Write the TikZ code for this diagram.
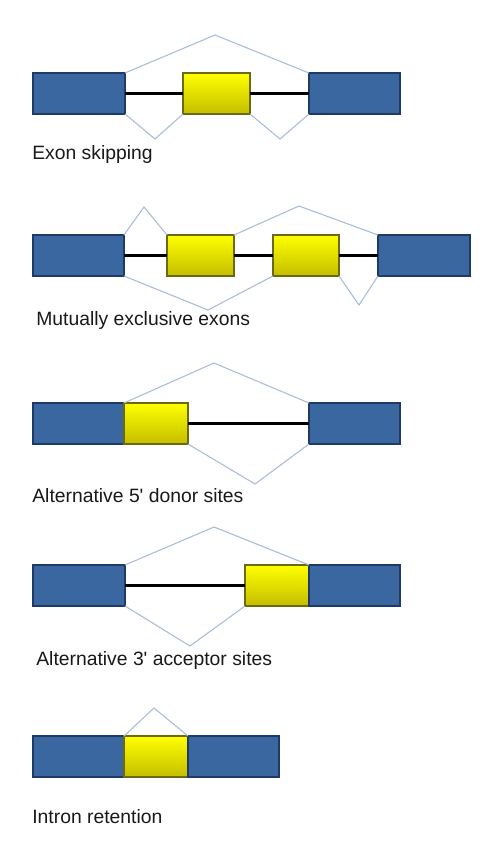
\documentclass[tikz,border=0pt]{standalone}
\usepackage{fontspec}
\setmainfont{Liberation Sans}
\definecolor{ExonBlue}{HTML}{3B67A1}
\definecolor{ExonEdge}{HTML}{1E3A66}
\definecolor{AltYellow}{HTML}{FFFF00}
\definecolor{AltShade}{HTML}{C4BE00}
\definecolor{AltEdge}{HTML}{6B6A10}
\definecolor{SpliceBlue}{HTML}{A8BCD9}
\usetikzlibrary{positioning}
\tikzset{
  exon/.style={draw=ExonEdge, fill=ExonBlue, line width=0.9pt, inner sep=0pt,
    outer sep=0pt, minimum height=0.82cm, anchor=north west},
  altexon/.style={exon, draw=AltEdge, top color=AltYellow, middle color=AltYellow,
    bottom color=AltShade},
  intron/.style={black, line width=1.4pt},
  splice/.style={SpliceBlue, line width=0.6pt},
  caption/.style={anchor=base west, inner sep=0pt, text=black!90,
    font=\fontsize{11}{13}\selectfont}
}

\begin{document}
\begin{tikzpicture}[x=0.02cm, y=-0.02cm]
  \fill[white] (0,0) rectangle (500,850);
  \useasboundingbox (0,0) rectangle (500,850);
  % exon skipping
  \node[exon, minimum width=1.84cm] (es1) at (33,73) {};
  \node[altexon, minimum width=1.34cm] (es2) at (183,73) {};
  \node[exon, minimum width=1.82cm] (es3) at (309,73) {};
  \draw[intron] (es1) -- (es2) (es2) -- (es3);
  \coordinate (esTop) at (215,35);
  \coordinate (esLowA) at (155,139);
  \coordinate (esLowB) at (280,139);
  \draw[splice] (es1.north east) -- (esTop) -- (es3.north west);
  \draw[splice] (es1.south east) -- (esLowA) -- (es2.south west);
  \draw[splice] (es2.south east) -- (esLowB) -- (es3.south west);
  \node[caption] (esText) at (32,159) {Exon skipping};
  % mutually exclusive exons
  \node[exon, minimum width=1.82cm] (mx1) at (33,235) {};
  \node[altexon, minimum width=1.34cm] (mx2) at (167,235) {};
  \node[altexon, minimum width=1.32cm] (mx3) at (273,235) {};
  \node[exon, minimum width=1.84cm] (mx4) at (378,235) {};
  \draw[intron] (mx1) -- (mx2) (mx2) -- (mx3) (mx3) -- (mx4);
  \coordinate (mxTopA) at (144,207);
  \coordinate (mxTopB) at (299,206);
  \coordinate (mxLowA) at (208,310);
  \coordinate (mxLowB) at (359,305);
  \draw[splice] (mx1.north east) -- (mxTopA) -- (mx2.north west);
  \draw[splice] (mx2.north east) -- (mxTopB) -- (mx4.north west);
  \draw[splice] (mx1.south east) -- (mxLowA) -- (mx3.south west);
  \draw[splice] (mx3.south east) -- (mxLowB) -- (mx4.south west);
  \node[caption] (mxText) at (36,325) {Mutually exclusive exons};
  % alternative 5' donor sites
  \node[exon, minimum width=1.82cm] (dn1) at (33,403) {};
  \node[altexon, minimum width=1.28cm, right=0pt of dn1] (dn2) {};
  \node[exon, minimum width=1.82cm] (dn3) at (309,403) {};
  \draw[intron] (dn2) -- (dn3);
  \coordinate (dnTop) at (214,363);
  \coordinate (dnLow) at (255,484);
  \draw[splice] (dn1.north east) -- (dnTop) -- (dn3.north west);
  \draw[splice] (dn2.south east) -- (dnLow) -- (dn3.south west);
  \node[caption] (dnText) at (32,502) {Alternative 5\textquotesingle{} donor sites};
  % alternative 3' acceptor sites
  \node[exon, minimum width=1.84cm] (ac1) at (33,565) {};
  \node[altexon, minimum width=1.28cm] (ac2) at (245,565) {};
  \node[exon, minimum width=1.82cm, right=0pt of ac2] (ac3) {};
  \draw[intron] (ac1) -- (ac2);
  \coordinate (acTop) at (214,527);
  \coordinate (acLow) at (190,646);
  \draw[splice] (ac1.north east) -- (acTop) -- (ac3.north west);
  \draw[splice] (ac1.south east) -- (acLow) -- (ac2.south west);
  \node[caption] (acText) at (36,665) {Alternative 3\textquotesingle{} acceptor sites};
  % intron retention
  \node[exon, minimum width=1.82cm] (ir1) at (33,736) {};
  \node[altexon, minimum width=1.28cm, right=0pt of ir1] (ir2) {};
  \node[exon, minimum width=1.82cm, right=0pt of ir2] (ir3) {};
  \coordinate (irTop) at (154,708);
  \draw[splice] (ir1.north east) -- (irTop) -- (ir3.north west);
  \node[caption] (irText) at (32,823) {Intron retention};
\end{tikzpicture}
\end{document}
